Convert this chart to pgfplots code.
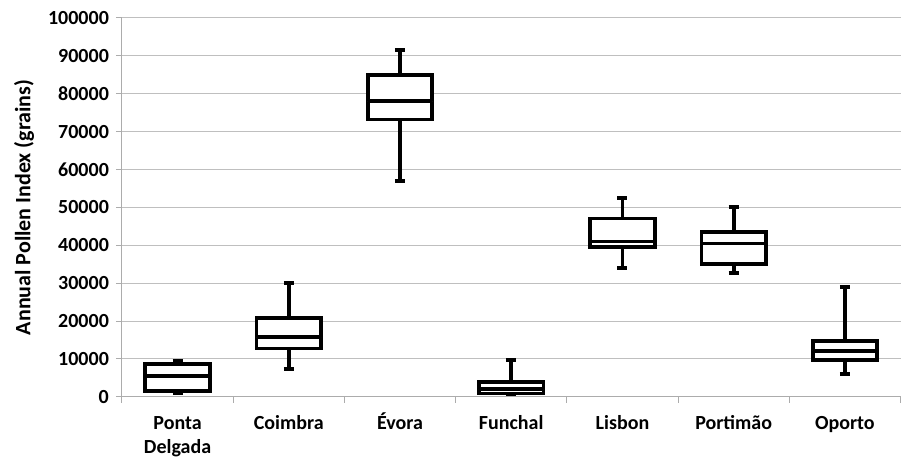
\documentclass[border=0pt]{standalone}
\usepackage{fontspec}
\setmainfont{Carlito}
\usepackage{pgfplots}
\pgfplotsset{compat=1.18}
\usepgfplotslibrary{statistics}
\begin{document}
\begin{tikzpicture}
\begin{axis}[
  name=ax,
  scale only axis,
  width=389.5pt, height=189.5pt,
  xmin=0.5, xmax=7.5,
  ymin=0, ymax=100000,
  ytick={0,10000,...,100000},
  xtick={1,...,7},
  xticklabels={\vphantom{É}Ponta\\Delgada,\vphantom{É}Coimbra,Évora,\vphantom{É}Funchal,\vphantom{É}Lisbon,\vphantom{É}Portimão,\vphantom{É}Oporto},
  xticklabel style={align=center, font=\bfseries, yshift=-1.5pt},
  yticklabel style={font=\bfseries},
  major x tick style={draw=none},
  minor xtick={0.5,1.5,...,7.5},
  axis x line*=bottom, axis y line*=left,
  axis line style={gray!65, line width=0.5pt},
  tick style={gray!65, line width=0.5pt},
  tick align=outside,
  major tick length=3pt, minor tick length=3pt,
  ymajorgrids, grid style={gray!50, line width=0.5pt},
  scaled y ticks=false,
  /pgf/number format/fixed,
  /pgf/number format/precision=0,
  /pgf/number format/set thousands separator={},
  /pgf/number format/assume math mode=true,
  ylabel={Annual Pollen Index (grains)},
  every axis y label/.style={at={(rel axis cs:0,0.5)}, xshift=-49pt, rotate=90, anchor=center, font=\fontsize{11}{13}\bfseries\selectfont},
  boxplot/draw direction=y,
  boxplot/box extend=0.58,
  boxplot/whisker extend=0.09,
  every boxplot/.style={black, solid, line width=1.9pt, line join=miter, fill=white, mark=none},
]
\addplot[boxplot prepared={draw position=1, lower whisker=880, lower quartile=1590, median=5490, upper quartile=8580, upper whisker=9560}] coordinates {};
\addplot[boxplot prepared={draw position=2, lower whisker=7350, lower quartile=12740, median=15750, upper quartile=20880, upper whisker=30090}] coordinates {};
\addplot[boxplot prepared={draw position=3, lower whisker=56900, lower quartile=73190, median=78050, upper quartile=85040, upper whisker=91590}] coordinates {};
\addplot[boxplot prepared={draw position=4, lower whisker=700, lower quartile=880, median=1950, upper quartile=3800, upper whisker=9650}] coordinates {};
\addplot[boxplot prepared={draw position=5, lower whisker=33980, lower quartile=39560, median=41000, upper quartile=47080, upper whisker=52570}] coordinates {};
\addplot[boxplot prepared={draw position=6, lower whisker=32740, lower quartile=34960, median=40440, upper quartile=43540, upper whisker=50000}] coordinates {};
\addplot[boxplot prepared={draw position=7, lower whisker=6020, lower quartile=9730, median=12120, upper quartile=14690, upper whisker=28940}] coordinates {};
\end{axis}
\path ([xshift=-61pt,yshift=9pt]ax.north west) ([yshift=-30pt]ax.south east);
\end{tikzpicture}
\end{document}
